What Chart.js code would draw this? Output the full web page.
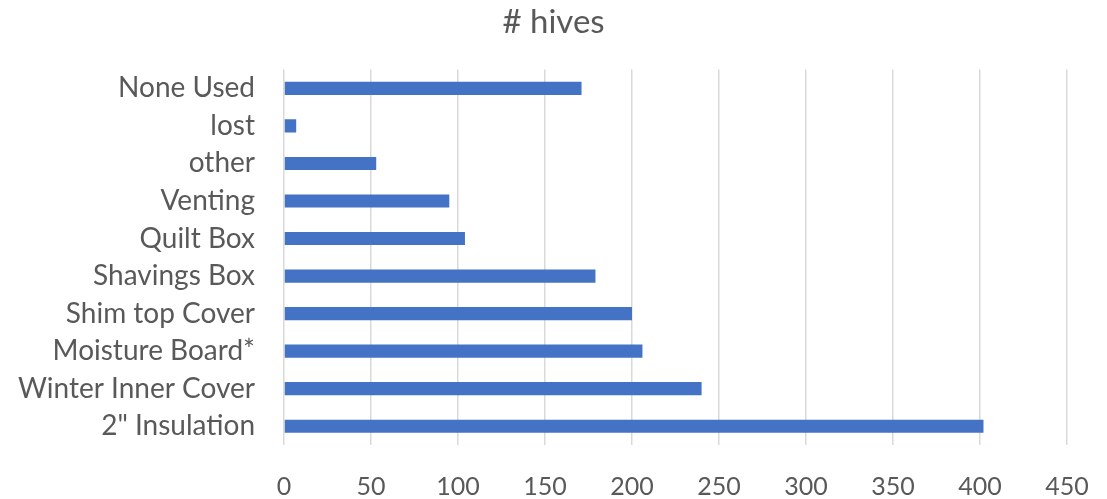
<!DOCTYPE html>
<html>
<head>
<meta charset="utf-8">
<script src="https://cdn.jsdelivr.net/npm/chart.js@4/dist/chart.umd.min.js"></script>
<style>
  html, body { margin: 0; padding: 0; background: #fff; }
  #wrap { width: 1107px; height: 499px; }
</style>
</head>
<body>
<div id="wrap"><canvas id="c" width="1107" height="499"></canvas></div>
<script>
// Hive top treatments, listed top to bottom as drawn
const categories = ["None Used", "lost", "other", "Venting", "Quilt Box", "Shavings Box",
                    "Shim top Cover", "Moisture Board*", "Winter Inner Cover", "2\" Insulation"];
const hives = [171, 7, 53, 95, 104, 179, 200, 206, 240, 402];
const xTicks = [0, 50, 100, 150, 200, 250, 300, 350, 400, 450];

const FONT = "Lato, 'Open Sans', sans-serif";
const TEXT = "#595959";

new Chart(document.getElementById("c"), {
  type: "bar",
  data: {
    labels: categories,
    datasets: [{
      label: "# hives",
      data: hives,
      backgroundColor: "#4472C4",
      borderWidth: 0,
      categoryPercentage: 1,
      barPercentage: 0.35
    }]
  },
  options: {
    indexAxis: "y",
    responsive: false,
    animation: false,
    layout: { padding: 0 },
    plugins: {
      legend: { display: false },
      tooltip: { enabled: false },
      title: {
        display: true,
        text: "# hives",
        color: TEXT,
        font: { family: FONT, size: 33, weight: "normal" },
        padding: { top: 3, bottom: 27 }
      }
    },
    scales: {
      x: {
        min: 0,
        max: 450,
        afterBuildTicks: (axis) => { axis.ticks = xTicks.map(v => ({ value: v })); },
        afterFit: (axis) => {
          // keep a fixed strip on the right of the plot, leaving the title centred on the canvas
          axis.height = 54;
          axis.paddingLeft = 0;
          axis.paddingRight = 40;
        },
        grid: { color: "#d9d9d9", lineWidth: 1.5, drawTicks: false },
        border: { display: false },
        ticks: { color: TEXT, font: { family: FONT, size: 25 }, padding: 27, maxRotation: 0 }
      },
      y: {
        afterFit: (axis) => { axis.width = 284; },
        grid: { display: false, drawTicks: false },
        border: { display: false },
        ticks: { color: TEXT, font: { family: FONT, size: 28 }, padding: 29 }
      }
    }
  }
});
</script>
</body>
</html>
